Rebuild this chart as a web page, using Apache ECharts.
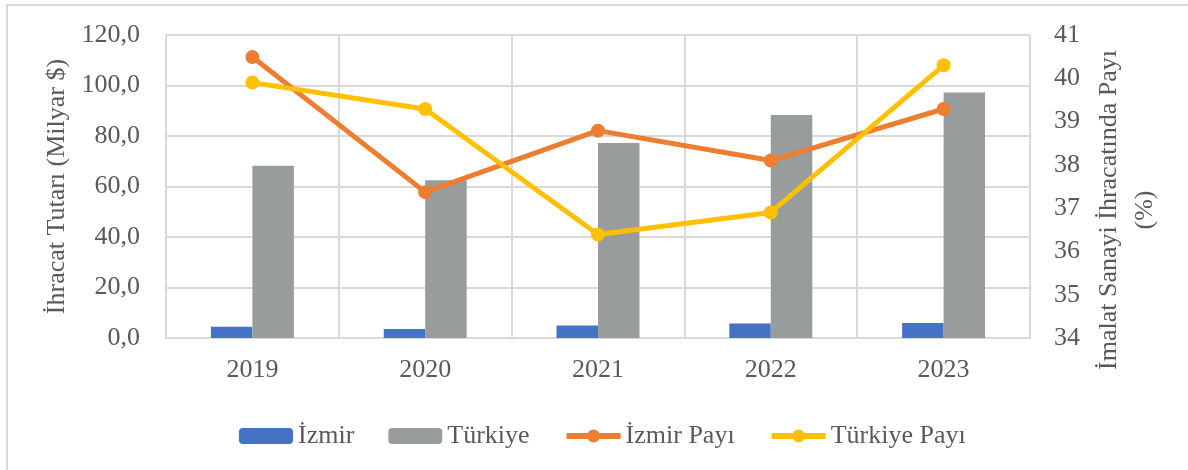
<!DOCTYPE html>
<html>
<head>
<meta charset="utf-8">
<script src="https://cdn.jsdelivr.net/npm/echarts@6/dist/echarts.min.js"></script>
<style>
html, body { margin: 0; padding: 0; background: #fff; }
#main { width: 1188px; height: 470px; }
</style>
</head>
<body>
<div id="main"></div>
<script>
// yıllar
var years = ['2019', '2020', '2021', '2022', '2023'];
// ihracat tutarı (milyar $)
var izmirExport = [4.5, 3.6, 5.0, 5.7, 5.9];
var turkiyeExport = [68.2, 62.5, 77.2, 88.3, 97.2];
// imalat sanayi ihracatındaki pay (%)
var izmirShare = [40.49, 37.37, 38.79, 38.10, 39.29];
var turkiyeShare = [39.90, 39.29, 36.39, 36.90, 40.30];

var fontName = 'Liberation Serif';
var fontSize = 26;
var textColor = '#595959';
var gridColor = '#d9d9d9';

var myChart = echarts.init(document.getElementById('main'));
var option = {
    backgroundColor: '#fff',
    textStyle: { fontFamily: fontName, color: textColor },
    graphic: [{
        type: 'rect',
        shape: { x: 7, y: 5, width: 1200, height: 480 },
        style: { fill: 'none', stroke: gridColor, lineWidth: 2 },
        silent: true
    }],
    legend: {
        left: 234,
        top: 418,
        itemWidth: 54,
        itemHeight: 16,
        itemGap: 34,
        textStyle: { fontFamily: fontName, fontSize: fontSize, color: textColor },
        data: [
            { name: 'İzmir' },
            { name: 'Türkiye' },
            { name: 'İzmir Payı', lineStyle: { width: 6 } },
            { name: 'Türkiye Payı', lineStyle: { width: 6 } }
        ]
    },
    grid: {
        left: 166,
        right: 158,
        top: 35,
        bottom: 132
    },
    xAxis: {
        type: 'category',
        data: years,
        axisTick: { show: false },
        axisLine: { lineStyle: { color: gridColor, width: 2 } },
        splitLine: { show: true, lineStyle: { color: gridColor, width: 2 } },
        axisLabel: { fontFamily: fontName, fontSize: fontSize, color: textColor, margin: 19 }
    },
    yAxis: [{
        type: 'value',
        min: 0,
        max: 120,
        interval: 20,
        name: 'İhracat Tutarı (Milyar $)',
        nameLocation: 'middle',
        nameGap: 96,
        nameTextStyle: { fontFamily: fontName, fontSize: fontSize, color: textColor },
        axisLine: { show: false },
        axisTick: { show: false },
        splitLine: { lineStyle: { color: gridColor, width: 2 } },
        axisLabel: {
            fontFamily: fontName, fontSize: fontSize, color: textColor, margin: 26,
            formatter: function (v) { return v.toFixed(1).replace('.', ','); }
        }
    }, {
        type: 'value',
        min: 34,
        max: 41,
        interval: 1,
        name: 'İmalat Sanayi İhracatında Payı\n(%)',
        nameLocation: 'middle',
        nameRotate: 90,
        nameGap: 49,
        nameTextStyle: {
            fontFamily: fontName, fontSize: fontSize, color: textColor,
            lineHeight: 36, padding: [0, 47, 0, 0]
        },
        axisLine: { show: false },
        axisTick: { show: false },
        splitLine: { show: false },
        axisLabel: { fontFamily: fontName, fontSize: fontSize, color: textColor, margin: 24 }
    }],
    series: [
        {
            name: 'İzmir',
            type: 'bar',
            data: izmirExport,
            barGap: '0%',
            barCategoryGap: '52%',
            itemStyle: { color: '#4472C4' }
        },
        {
            name: 'Türkiye',
            type: 'bar',
            data: turkiyeExport,
            itemStyle: { color: '#999C9C' }
        },
        {
            name: 'İzmir Payı',
            type: 'line',
            yAxisIndex: 1,
            data: izmirShare,
            symbol: 'circle',
            symbolSize: 14,
            lineStyle: { color: '#ED7D31', width: 5 },
            itemStyle: { color: '#ED7D31' }
        },
        {
            name: 'Türkiye Payı',
            type: 'line',
            yAxisIndex: 1,
            data: turkiyeShare,
            symbol: 'circle',
            symbolSize: 14,
            lineStyle: { color: '#FFC000', width: 5 },
            itemStyle: { color: '#FFC000' }
        }
    ]
};
if (option && typeof option === "object") {
    myChart.setOption(option, true);
}
</script>
</body>
</html>
